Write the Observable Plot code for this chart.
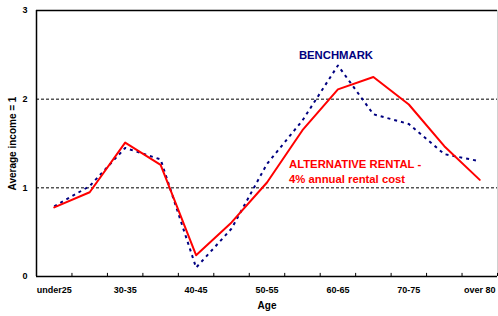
<!DOCTYPE html>
<html>
<head>
<meta charset="utf-8">
<script src="https://cdn.jsdelivr.net/npm/d3@7"></script>
<script src="https://cdn.jsdelivr.net/npm/@observablehq/plot@0.6"></script>
<style>
  html, body { margin: 0; padding: 0; background: #fff; }
  svg { font-family: "Liberation Sans", Arial, sans-serif; font-weight: bold; }
</style>
</head>
<body>
<div id="chart"></div>
<script>
const categories = ["under25","25-30","30-35","35-40","40-45","45-50","50-55","55-60","60-65","65-70","70-75","75-80","over 80"];
const tickLabels = ["under25","30-35","40-45","50-55","60-65","70-75","over 80"];
const benchmark   = [0.79, 1.02, 1.45, 1.32, 0.10, 0.54, 1.27, 1.76, 2.38, 1.83, 1.72, 1.38, 1.30];
const alternative = [0.78, 0.95, 1.51, 1.26, 0.24, 0.61, 1.06, 1.65, 2.11, 2.25, 1.94, 1.47, 1.09];
const yTicks = [0, 1, 2, 3];
const gridValues = [1, 2];
const seriesLabels = ["BENCHMARK", "ALTERNATIVE RENTAL -\n4% annual rental cost"];
const labelX = [6.9, 6.62];
const labelY = [2.51, 1.19];
const seriesColors = ["#000080", "#ff0000"];

const benchData = categories.map((c, i) => ({i, v: benchmark[i]}));
const altData = categories.map((c, i) => ({i, v: alternative[i]}));
const boundaries = d3.range(categories.length + 1).map(i => i - 0.5);
const labelTicks = tickLabels.map(t => categories.indexOf(t));
const annotations = seriesLabels.map((t, k) => ({t, x: labelX[k], y: labelY[k], c: seriesColors[k]}));
const xMin = -0.5, xMax = categories.length - 0.5;

const chart = Plot.plot({
  width: 498,
  height: 316,
  marginLeft: 36,
  marginRight: 1,
  marginTop: 10,
  marginBottom: 40,
  x: {domain: [xMin, xMax]},
  y: {domain: [0, 3]},
  marks: [
    Plot.ruleY(gridValues, {x1: xMin, x2: xMax, stroke: "#000", strokeWidth: 1, strokeDasharray: "3,2"}),
    Plot.ruleY([3], {x1: xMin, x2: xMax, stroke: "#000", strokeWidth: 1.5}),
    Plot.ruleX([xMax], {y1: 0, y2: 3, stroke: "#d0d0d0", strokeWidth: 1}),
    Plot.ruleX(boundaries, {y1: 0, y2: 0.035, stroke: "#000", strokeWidth: 1}),
    Plot.line(benchData, {x: "i", y: "v", stroke: seriesColors[0], strokeWidth: 2, strokeDasharray: "3,4", strokeLinecap: "butt"}),
    Plot.line(altData, {x: "i", y: "v", stroke: seriesColors[1], strokeWidth: 2}),
    Plot.ruleY([0], {x1: xMin, x2: xMax, stroke: "#000", strokeWidth: 1.5}),
    Plot.ruleX([xMin], {y1: 0, y2: 3, stroke: "#000", strokeWidth: 1.5}),
    Plot.axisX({ticks: labelTicks, tickSize: 0, tickPadding: 10, tickFormat: i => categories[i], fontSize: 9, label: null}),
    Plot.axisY({ticks: yTicks, tickSize: 0, tickPadding: 9, tickFormat: d3.format("d"), fontSize: 9, label: null}),
    Plot.text(["Age"], {frameAnchor: "bottom", lineAnchor: "middle", dy: 29, fontSize: 10, fontWeight: "bold", fill: "#000"}),
    Plot.text(["Average income = 1"], {frameAnchor: "left", dx: -24, rotate: -90, textAnchor: "middle", fontSize: 10, fontWeight: "bold", fill: "#000"}),
    Plot.text(annotations, {x: "x", y: "y", text: "t", fill: "c", textAnchor: "start", fontSize: 11.3, fontWeight: "bold", lineHeight: 1.33})
  ]
});
document.getElementById("chart").appendChild(chart);
</script>
</body>
</html>
